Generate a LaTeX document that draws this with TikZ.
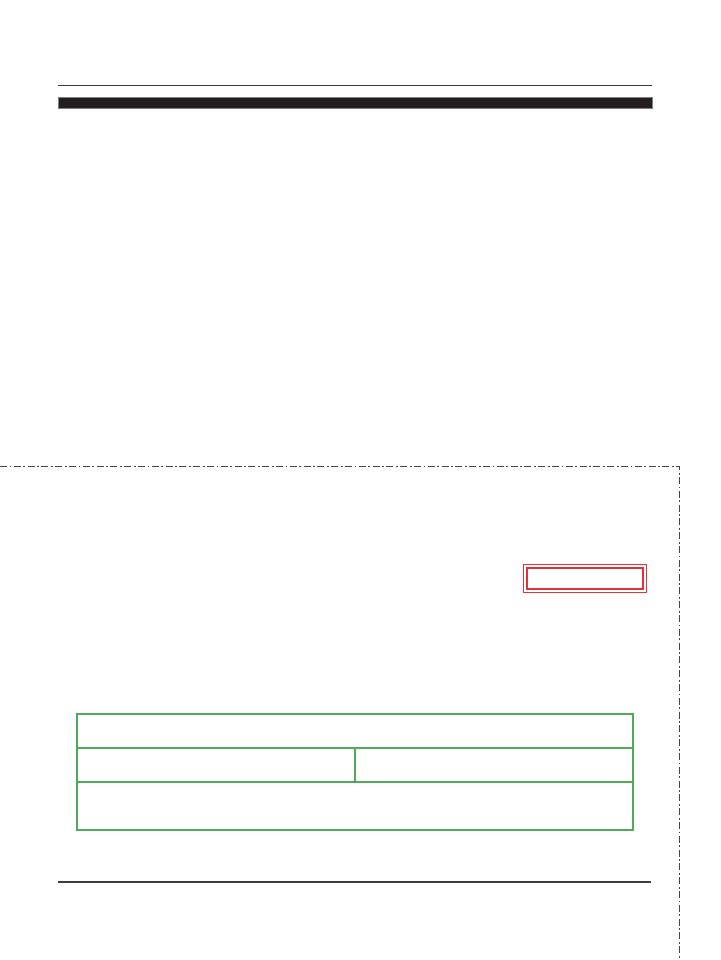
\documentclass[tikz,border=0pt]{standalone}
\usetikzlibrary{positioning}
\definecolor{barblack}{RGB}{35,31,32}
\definecolor{rulegrey}{RGB}{60,60,60}
\definecolor{tblgreen}{RGB}{80,170,90}
\definecolor{boxred}{RGB}{225,50,60}
\definecolor{dashgrey}{RGB}{70,70,70}
\begin{document}
\begin{tikzpicture}[x=1pt,y=-1pt,
  thinrule/.style={draw=rulegrey,line width=1.4pt},
  thickrule/.style={draw=rulegrey,line width=2pt},
  blackbar/.style={fill=barblack,draw=gray,line width=0.6pt},
  dashborder/.style={draw=dashgrey,line width=1pt,dash pattern=on 7pt off 2.5pt on 1.8pt off 2.5pt},
  tblline/.style={draw=tblgreen,line width=1.2pt},
  redouter/.style={draw=boxred,line width=1.6pt},
  redinner/.style={draw=boxred,line width=1.2pt}]
\useasboundingbox (0,0) rectangle (720,960);
\fill[white] (0,0) rectangle (720,960);
% top rules
\draw[thinrule] (58,85.7) -- (652,85.7);
\path[blackbar] (58,97.5) rectangle (652,108.5);
% dash-dot border
\draw[dashborder] (0,466) -- (679,466) -- (679,960);
% red double box
\path[redouter] (523.5,564.5) rectangle (646.5,592.5);
\path[redinner] (527,568) rectangle (643,589);
% green table
\path[tblline] (77,714) rectangle (633,830);
\draw[tblline] (77,748) -- (633,748);
\draw[tblline] (77,782) -- (633,782);
\draw[tblline] (355,748) -- (355,782);
% bottom rule
\draw[thickrule] (58,881.7) -- (651,881.7);
\end{tikzpicture}
\end{document}
